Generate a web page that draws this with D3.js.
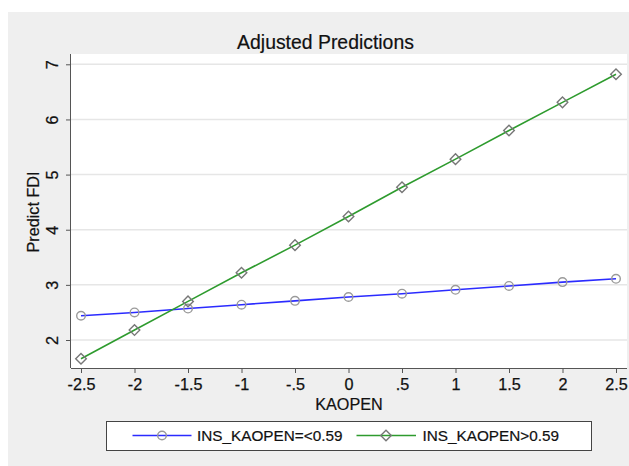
<!DOCTYPE html>
<html><head><meta charset="utf-8">
<script src="https://cdn.jsdelivr.net/npm/d3@7"></script>
<style>
html,body{margin:0;padding:0;background:#fff;}
svg{display:block;font-family:"Liberation Sans",Arial,Helvetica,sans-serif;}
</style></head>
<body>
<svg id="c" width="629" height="466"></svg>
<script>
const xValues = [-2.5,-2,-1.5,-1,-0.5,0,0.5,1,1.5,2,2.5];
const lowSeries = [2.44,2.50,2.57,2.64,2.71,2.78,2.84,2.91,2.98,3.05,3.11];
const highSeries = [1.66,2.18,2.70,3.22,3.72,4.24,4.77,5.28,5.80,6.31,6.82];
const xTicks = [-2.5,-2,-1.5,-1,-0.5,0,0.5,1,1.5,2,2.5];
const xTickLabels = ["-2.5","-2","-1.5","-1","-.5","0",".5","1","1.5","2","2.5"];
const yTicks = [2,3,4,5,6,7];
const seriesNames = ["INS_KAOPEN=<0.59","INS_KAOPEN>0.59"];

const svg = d3.select("#c");
svg.append("rect").attr("x",8).attr("y",12).attr("width",621).attr("height",454).attr("fill","#efefef");

const L=71, R=627, T=54, B=368;
svg.append("rect").attr("x",L).attr("y",T).attr("width",R-L).attr("height",B-T).attr("fill","#fff");

const x = d3.scaleLinear().domain([-2.5,2.5]).range([81,616]);
const y = d3.scaleLinear().domain([2,7]).range([340,64.3]);

svg.append("g").selectAll("line").data(yTicks).join("line")
  .attr("x1",L).attr("x2",R).attr("y1",d=>y(d)).attr("y2",d=>y(d))
  .attr("stroke","#e6e6e6").attr("stroke-width",1.5);

const fontCss = "Liberation Sans, Arial, sans-serif";
const xAxis = d3.axisBottom(x).tickValues(xTicks).tickFormat((d,i)=>xTickLabels[i]).tickSize(5).tickPadding(5).tickSizeOuter(0);
const gx = svg.append("g").attr("transform",`translate(0,${B})`).call(xAxis);
gx.select(".domain").attr("d",`M${L},0.5H${R}`).attr("stroke","#555");
gx.selectAll(".tick line").attr("stroke","#555");
gx.selectAll(".tick text").attr("fill","#111").attr("font-size","16.2px").attr("font-family",fontCss)
  .attr("stroke","#111").attr("stroke-width",0.25);

const yAxis = d3.axisLeft(y).tickValues(yTicks).tickFormat(d3.format("d")).tickSize(5).tickPadding(5).tickSizeOuter(0);
const gy = svg.append("g").attr("transform",`translate(${L},0)`).call(yAxis);
gy.select(".domain").attr("d",`M-0.5,${T}V${B}`).attr("stroke","#555");
gy.selectAll(".tick line").attr("stroke","#555");
gy.selectAll(".tick text").attr("fill","#111").attr("font-size","16.2px").attr("font-family",fontCss)
  .attr("stroke","#111").attr("stroke-width",0.25)
  .attr("x",null).attr("text-anchor","middle")
  .attr("transform","translate(-19,0) rotate(-90)").attr("dy","0.36em");

svg.append("text").attr("x",325.5).attr("y",48.5).attr("text-anchor","middle")
  .attr("font-size","19.4px").attr("fill","#111").attr("stroke","#111").attr("stroke-width",0.2).text("Adjusted Predictions");
svg.append("text").attr("x",349).attr("y",409.5).attr("text-anchor","middle")
  .attr("font-size","16.2px").attr("fill","#111").attr("stroke","#111").attr("stroke-width",0.2).text("KAOPEN");
svg.append("text").attr("transform","translate(38.5,212) rotate(-90)").attr("text-anchor","middle")
  .attr("font-size","16.2px").attr("fill","#111").attr("stroke","#111").attr("stroke-width",0.2).text("Predict FDI");

const line = d3.line().x(d=>x(d[0])).y(d=>y(d[1]));
const lowData = xValues.map((v,i)=>[v,lowSeries[i]]);
const highData = xValues.map((v,i)=>[v,highSeries[i]]);
const blue="#2b2bff", green="#2e9b2e";

svg.append("path").datum(lowData).attr("d",line).attr("fill","none").attr("stroke",blue).attr("stroke-width",1.6);
svg.append("path").datum(highData).attr("d",line).attr("fill","none").attr("stroke",green).attr("stroke-width",1.6);

const diamond = (cx,cy,r)=>`M${cx},${cy-r}L${cx+r},${cy}L${cx},${cy+r}L${cx-r},${cy}Z`;

svg.append("g").selectAll("circle").data(lowData).join("circle")
  .attr("cx",d=>x(d[0])).attr("cy",d=>y(d[1])).attr("r",4.3)
  .attr("fill","none").attr("stroke","#9a9a9a").attr("stroke-width",1.4);
svg.append("g").selectAll("path").data(highData).join("path")
  .attr("d",d=>diamond(x(d[0]),y(d[1]),5.3))
  .attr("fill","none").attr("stroke","#777").attr("stroke-width",1.4);

svg.append("rect").attr("x",106.5).attr("y",421.5).attr("width",485).attr("height",29)
  .attr("fill","#fff").attr("stroke","#444").attr("stroke-width",1);
const ly = 435.5;
svg.append("line").attr("x1",132.5).attr("x2",191.5).attr("y1",ly).attr("y2",ly).attr("stroke",blue).attr("stroke-width",1.6);
svg.append("circle").attr("cx",162).attr("cy",ly).attr("r",4.3).attr("fill","none").attr("stroke","#9a9a9a").attr("stroke-width",1.4);
svg.append("text").attr("x",197).attr("y",ly+5.8).attr("font-size","15.3px").attr("fill","#111").attr("stroke","#111").attr("stroke-width",0.2).text(seriesNames[0]);
svg.append("line").attr("x1",356.5).attr("x2",416).attr("y1",ly).attr("y2",ly).attr("stroke",green).attr("stroke-width",1.6);
svg.append("path").attr("d",diamond(386,ly,5.3)).attr("fill","none").attr("stroke","#777").attr("stroke-width",1.4);
svg.append("text").attr("x",422.5).attr("y",ly+5.8).attr("font-size","15.3px").attr("fill","#111").attr("stroke","#111").attr("stroke-width",0.2).text(seriesNames[1]);
</script>
</body></html>
